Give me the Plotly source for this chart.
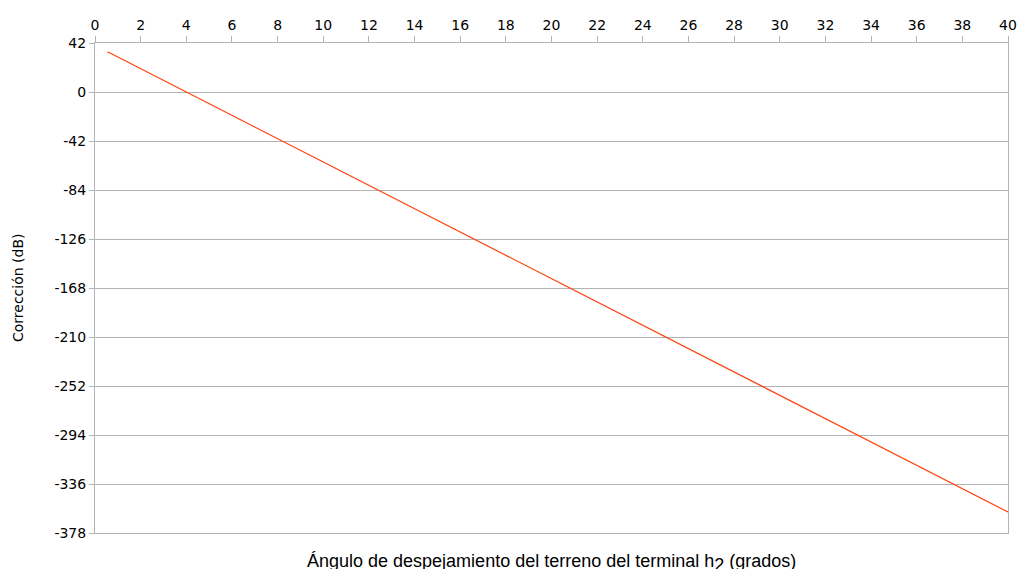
import plotly.graph_objects as go

# Terrain clearance angle (degrees) and the resulting correction (dB)
angulo = [0.55, 4, 10, 20, 30, 40]
correccion = [34.5, 0, -60, -160, -260, -360]

x_ticks = list(range(0, 41, 2))
y_ticks = [42, 0, -42, -84, -126, -168, -210, -252, -294, -336, -378]
y_labels = [str(v) for v in y_ticks]  # plain hyphen for negatives

grid = "#b3b3b3"
tick_font = dict(family="DejaVu Sans", size=14, color="#000000")

fig = go.Figure()
fig.add_trace(go.Scatter(
    x=angulo, y=correccion, mode="lines",
    line=dict(color="#ff420e", width=1.2),
    showlegend=False, hoverinfo="skip",
))

fig.update_layout(
    width=1018, height=569,
    margin=dict(l=95, r=10, t=43, b=36),
    paper_bgcolor="white", plot_bgcolor="white",
    xaxis=dict(
        side="top", range=[0, 40], tickvals=x_ticks,
        showgrid=False, zeroline=False, automargin=False,
        showline=True, linecolor=grid, linewidth=1, mirror=True,
        ticks="outside", ticklen=6, tickcolor=grid,
        tickfont=tick_font,
    ),
    yaxis=dict(
        range=[-378, 42], tickvals=y_ticks, ticktext=y_labels,
        showgrid=True, gridcolor=grid, gridwidth=1, zeroline=False,
        automargin=False,
        showline=True, linecolor=grid, linewidth=1, mirror=True,
        ticks="outside", ticklen=5, tickcolor=grid,
        tickfont=tick_font,
    ),
    annotations=[
        dict(text="Ángulo de despejamiento del terreno del terminal h<sub><span style='font-size:18px'>2</span></sub> (grados)",
             xref="paper", yref="paper", x=0.5, y=0, yshift=-16,
             xanchor="center", yanchor="top", showarrow=False,
             font=dict(family="Liberation Sans", size=18, color="#000000")),
        dict(text="Corrección (dB)",
             xref="paper", yref="paper", x=0, xshift=-77, y=0.5,
             xanchor="center", yanchor="middle", textangle=-90, showarrow=False,
             font=dict(family="DejaVu Sans", size=14, color="#000000")),
    ],
)

fig.write_html("out.html")
